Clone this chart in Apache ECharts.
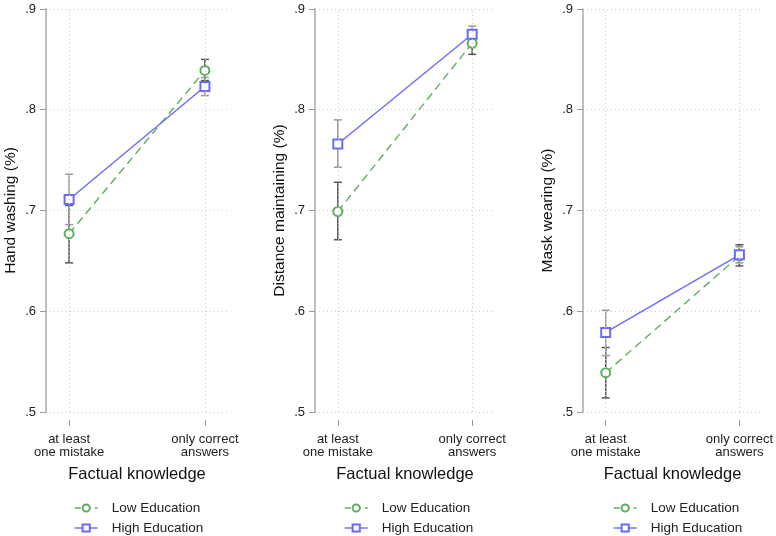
<!DOCTYPE html>
<html>
<head>
<meta charset="utf-8">
<script src="https://cdn.jsdelivr.net/npm/echarts@6/dist/echarts.min.js"></script>
<style>html,body{margin:0;padding:0;background:#fff}#c{width:776px;height:536px}</style>
</head>
<body>
<div id="c"></div>
<script>
const categories = ['at least\none mistake', 'only correct\nanswers'];
const categoryX = [0, 1];
const panelNames = ['Hand washing (%)', 'Distance maintaining (%)', 'Mask wearing (%)'];
const xName = 'Factual knowledge';
const seriesNames = ['Low Education', 'High Education'];
const lowMean = [[0.677, 0.839], [0.699, 0.866], [0.539, 0.655]];
const lowLo   = [[0.648, 0.829], [0.671, 0.855], [0.514, 0.645]];
const lowHi   = [[0.705, 0.850], [0.728, 0.877], [0.564, 0.666]];
const highMean = [[0.711, 0.823], [0.766, 0.875], [0.579, 0.656]];
const highLo   = [[0.686, 0.814], [0.743, 0.867], [0.556, 0.648]];
const highHi   = [[0.736, 0.832], [0.790, 0.883], [0.601, 0.664]];

const GREEN = '#5fae5f', BLUE = '#6a6aff';
const FONT = 'Liberation Sans, Arial, sans-serif';
const gridLefts = [46, 315, 583];
const gridWidths = [182, 180, 182];
const legendLefts = [74, 344, 613];

const chart = echarts.init(document.getElementById('c'), null, {renderer: 'canvas'});

function errorSeries(idx, lo, hi, color, name) {
  return {
    type: 'custom', xAxisIndex: idx, yAxisIndex: idx, silent: true, z: 1,
    name: name + '_ci',
    data: categoryX.map((x, i) => [x, lo[idx][i], hi[idx][i]]),
    renderItem: function (params, api) {
      const x = api.value(0);
      const p1 = api.coord([x, api.value(1)]);
      const p2 = api.coord([x, api.value(2)]);
      const w = 4;
      const st = {stroke: color, lineWidth: 1.5};
      return {type: 'group', children: [
        {type: 'line', shape: {x1: p1[0], y1: p1[1], x2: p2[0], y2: p2[1]}, style: st},
        {type: 'line', shape: {x1: p1[0]-w, y1: p1[1], x2: p1[0]+w, y2: p1[1]}, style: st},
        {type: 'line', shape: {x1: p2[0]-w, y1: p2[1], x2: p2[0]+w, y2: p2[1]}, style: st}
      ]};
    }
  };
}

const grid = [], xAxis = [], yAxis = [], series = [], legend = [];
for (let k = 0; k < 3; k++) {
  grid.push({left: gridLefts[k], width: gridWidths[k], top: 9, height: 403});
  xAxis.push({
    type: 'value', gridIndex: k, min: -0.17, max: 1.17, offset: 8,
    name: xName, nameLocation: 'middle', nameGap: 46,
    nameTextStyle: {fontFamily: FONT, fontSize: 16.5, color: '#111'},
    axisLine: {show: false, onZero: false},
    axisTick: {show: true, length: 6, customValues: categoryX, lineStyle: {color: '#999'}},
    axisLabel: {customValues: categoryX, margin: 13, fontFamily: FONT, fontSize: 13, color: '#222', lineHeight: 13,
      formatter: v => categories[Math.round(v)]},
    splitLine: {show: false}
  });
  yAxis.push({
    type: 'value', gridIndex: k, min: 0.5, max: 0.9, interval: 0.1,
    name: panelNames[k], nameLocation: 'middle', nameGap: 27,
    nameTextStyle: {fontFamily: FONT, fontSize: 15.5, color: '#111'},
    axisLine: {show: true, onZero: false, lineStyle: {color: '#aaa', width: 1.5}},
    axisTick: {show: true, length: 6, lineStyle: {color: '#999'}},
    axisLabel: {margin: 10, fontFamily: FONT, fontSize: 13, color: '#222',
      formatter: v => '.' + Math.round(v * 10)},
    splitLine: {show: true, lineStyle: {color: '#ccc', type: [1, 3], width: 1}}
  });
  series.push(errorSeries(k, lowLo, lowHi, '#555', 'low'));
  series.push(errorSeries(k, highLo, highHi, '#999', 'high'));
  series.push({
    type: 'line', name: seriesNames[0], xAxisIndex: k, yAxisIndex: k, z: 3,
    data: categoryX.map((x, i) => [x, lowMean[k][i]]),
    symbol: 'emptyCircle', symbolSize: 9,
    itemStyle: {color: GREEN, borderWidth: 1.2},
    lineStyle: {color: GREEN, width: 1.4, type: [8, 5]},
    silent: true,
    markLine: {silent: true, symbol: 'none', label: {show: false},
      lineStyle: {color: '#ccc', type: [1, 3], width: 1},
      data: categoryX.map(x => ({xAxis: x}))}
  });
  series.push({
    type: 'line', name: seriesNames[1], xAxisIndex: k, yAxisIndex: k, z: 4,
    data: categoryX.map((x, i) => [x, highMean[k][i]]),
    symbol: 'emptyRect', symbolSize: 9,
    itemStyle: {color: BLUE, borderWidth: 1.2},
    lineStyle: {color: BLUE, width: 1.4, type: 'solid'},
    silent: true
  });
  legend.push({
    left: legendLefts[k], top: 501, orient: 'vertical', padding: 0,
    itemWidth: 23, itemHeight: 9, itemGap: 6, height: 40,
    data: [
      {name: seriesNames[0], lineStyle: {type: [6, 4], width: 1.4}, itemStyle: {borderWidth: 1}},
      {name: seriesNames[1], lineStyle: {width: 1.4}, itemStyle: {borderWidth: 1}}
    ],
    textStyle: {fontFamily: FONT, fontSize: 13.5, lineHeight: 14, color: '#222', padding: [0, 0, 0, 9]},
    selectedMode: false
  });
}

chart.setOption({animation: false, backgroundColor: '#fff', grid, xAxis, yAxis, series, legend});
</script>
</body>
</html>
